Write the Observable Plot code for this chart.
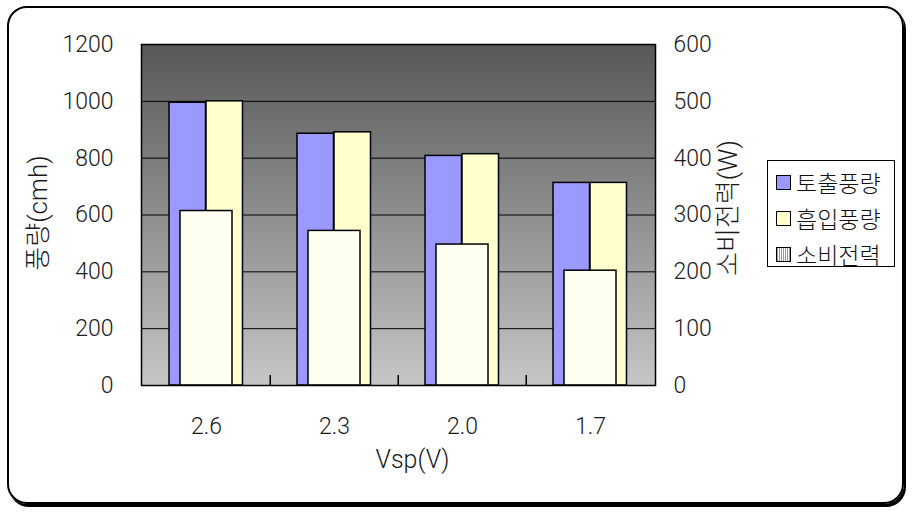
<!DOCTYPE html>
<html><head><meta charset="utf-8">
<script src="https://cdn.jsdelivr.net/npm/d3@7"></script>
<script src="https://cdn.jsdelivr.net/npm/@observablehq/plot@0.6"></script>
<style>
body{margin:0;background:#fff;}
#wrap{position:relative;width:912px;height:514px;overflow:hidden;}
#border{position:absolute;left:7px;top:6px;width:893px;height:494px;border:2px solid #000;border-radius:20px;box-shadow:2px 3px 0 #000;pointer-events:none;}
#legend{position:absolute;left:767px;top:160px;width:126px;height:105px;border:1px solid #000;background:#fff;font-family:"Noto Sans CJK KR",sans-serif;font-weight:300;font-size:23px;color:#111;}
.row{position:absolute;left:8px;height:30px;display:flex;align-items:center;}
.sw{width:15px;height:15px;border:1px solid #000;margin-right:5px;box-sizing:border-box;}
</style></head>
<body>
<div id="wrap"><div id="chart"></div><div id="border"></div><div id="legend"></div></div>
<script>
const categories = ["2.6", "2.3", "2.0", "1.7"];
const discharge = [995, 886, 808, 713];   // 토출풍량 (cmh)
const suction = [1000, 891, 814, 713];    // 흡입풍량 (cmh)
const power = [307, 272, 248, 202];       // 소비전력 (W)
const leftTicks = [0, 200, 400, 600, 800, 1000, 1200];
const rightTicks = [0, 100, 200, 300, 400, 500, 600];
const seriesNames = ["토출풍량", "흡입풍량", "소비전력"];
const seriesColors = ["#9999ff", "#ffffcc", "#fffff2"];
const xTitle = "Vsp(V)";
const yTitleLeft = "풍량(cmh)";
const yTitleRight = "소비전력(W)";

const ratio = 1200 / 600;
const rows = categories.map((c, i) => ({c, d: discharge[i], s: suction[i], p: power[i]}));

const chart = Plot.plot({
  width: 912, height: 514,
  marginLeft: 141, marginRight: 257, marginTop: 44, marginBottom: 129,
  style: {fontFamily: "Roboto,'Noto Sans CJK KR',sans-serif", fontWeight: 300, fontSize: "23px", color: "#1a1a1a", background: "transparent"},
  x: {domain: categories, padding: 0, label: null},
  y: {domain: [0, 1200], label: null},
  marks: [
    Plot.frame({fill: "url(#bgGrad)"}),
    Plot.gridY(leftTicks.slice(1, -1), {stroke: "#000", strokeOpacity: 1}),
    Plot.barY(rows, {x: "c", y: "d", fill: seriesColors[0], stroke: "#000", strokeWidth: 1.5, insetLeft: 27, insetRight: 64.5}),
    Plot.barY(rows, {x: "c", y: "s", fill: seriesColors[1], stroke: "#000", strokeWidth: 1.5, insetLeft: 64, insetRight: 27.5}),
    Plot.barY(rows, {x: "c", y: d => d.p * ratio, fill: seriesColors[2], stroke: "#000", strokeWidth: 1.5, insetLeft: 38, insetRight: 38}),
    Plot.ruleX(categories.slice(1), {dx: -64.25, y1: 0, y2: 35, stroke: "#000", strokeWidth: 1.5}),
    Plot.frame({stroke: "#000", strokeWidth: 1.5}),
    Plot.axisY(leftTicks, {anchor: "left", tickSize: 0, tickPadding: 28, tickFormat: d => String(d), label: null}),
    Plot.axisY(rightTicks.map(d => d * ratio), {anchor: "right", tickSize: 0, tickPadding: 18, tickFormat: d => String(d / ratio), label: null}),
    Plot.axisX({tickSize: 0, tickPadding: 32, label: null}),
    Plot.text([yTitleLeft], {frameAnchor: "left", textAnchor: "middle", rotate: -90, dx: -103, dy: -2, fontSize: 26}),
    Plot.text([yTitleRight], {frameAnchor: "right", textAnchor: "middle", rotate: -90, dx: 73, dy: -7, fontSize: 26}),
    Plot.text([xTitle], {frameAnchor: "bottom", dy: 82, dx: 14, fontSize: 25})
  ]
});
d3.select(chart).insert("defs", ":first-child").html(
  '<linearGradient id="bgGrad" x1="0" y1="0" x2="0" y2="1"><stop offset="0" stop-color="#575757"/><stop offset="1" stop-color="#c6c6c6"/></linearGradient>'
);
document.getElementById("chart").appendChild(chart);

const legend = d3.select("#legend");
seriesNames.forEach((name, i) => {
  const r = legend.append("div").attr("class", "row").style("top", (6 + i * 36) + "px");
  const sw = r.append("div").attr("class", "sw").style("background", seriesColors[i]);
  if (i === 2) sw.style("background", "repeating-linear-gradient(90deg,#999 0 1px,#fff 1px 2px)");
  r.append("span").text(name);
});
</script>
</body></html>
